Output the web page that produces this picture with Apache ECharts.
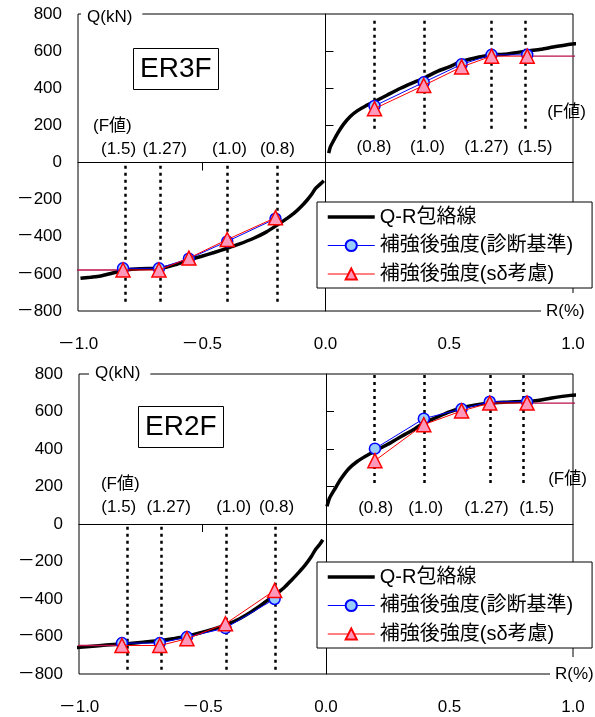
<!DOCTYPE html>
<html><head><meta charset="utf-8">
<script src="https://cdn.jsdelivr.net/npm/echarts@6/dist/echarts.min.js"></script>
<style>html,body{margin:0;padding:0;background:#fff}#c{width:595px;height:717px}</style>
</head><body><div id="c"></div>
<script>
// ---------- data ----------
const xTicks = [-1.0, -0.5, 0.0, 0.5, 1.0];
const yTicks = [-800, -600, -400, -200, 0, 200, 400, 600, 800];
const seriesNames = ['Q-R包絡線', '補強後強度(診断基準)', '補強後強度(sδ考慮)'];
const panelTitles = ['ER3F', 'ER2F'];
const fHeader = '(F値)';
const extR = [-1.03, 1.03];

// ER3F
const er3fEnvNeg = [[-0.99,-624],[-0.95,-618],[-0.909,-611],[-0.86,-595],[-0.808,-579],[-0.75,-572],[-0.667,-570],[-0.6,-548],[-0.552,-525],[-0.5,-505],[-0.45,-485],[-0.397,-462],[-0.35,-440],[-0.29,-408],[-0.24,-375],[-0.195,-337],[-0.16,-305],[-0.128,-274],[-0.1,-240],[-0.074,-202],[-0.055,-170],[-0.04,-139],[-0.02,-115],[-0.007,-98]];
const er3fEnvPos = [[0.013,50],[0.02,85],[0.034,121],[0.05,160],[0.074,208],[0.1,248],[0.128,278],[0.16,303],[0.195,326],[0.25,364],[0.303,400],[0.35,428],[0.397,454],[0.45,490],[0.5,515],[0.545,543],[0.6,562],[0.667,579],[0.72,583],[0.77,592],[0.815,601],[0.87,610],[0.92,622],[0.976,634],[1.03,643]];
const er3fR = [-0.818,-0.673,-0.552,-0.397,-0.202,0.198,0.397,0.55,0.671,0.815];
const er3fBlueQ = [-570,-570,-518,-425,-303,305,432,529,580,580];
const er3fRedQ = [-579,-579,-515,-415,-297,290,415,515,573,573];
const er3fFLineR = [-0.808,-0.667,-0.396,-0.194,0.198,0.397,0.671,0.808];
const er3fFLabels = ['(1.5)','(1.27)','(1.0)','(0.8)','(0.8)','(1.0)','(1.27)','(1.5)', fHeader, fHeader];
const er3fFLabelR = [-0.836,-0.65,-0.388,-0.194,0.196,0.412,0.65,0.846,-0.861,0.974];
const er3fFLabelQ = [70,70,70,70,81,81,81,81,197,269];

// ER2F
const er2fEnvNeg = [[-1.03,-661],[-0.97,-655],[-0.92,-649],[-0.86,-643],[-0.806,-638],[-0.74,-630],[-0.668,-621],[-0.62,-612],[-0.563,-599],[-0.5,-577],[-0.45,-558],[-0.403,-537],[-0.35,-505],[-0.3,-466],[-0.25,-420],[-0.205,-377],[-0.17,-340],[-0.138,-297],[-0.11,-258],[-0.083,-217],[-0.06,-175],[-0.043,-137],[-0.025,-108],[-0.013,-84]];
const er2fEnvPos = [[0.004,94],[0.015,140],[0.038,192],[0.06,240],[0.092,295],[0.125,332],[0.16,361],[0.197,387],[0.25,425],[0.294,459],[0.35,500],[0.396,539],[0.45,570],[0.5,598],[0.548,619],[0.6,634],[0.663,645],[0.73,650],[0.8,654],[0.84,656],[0.914,672],[0.99,686],[1.027,690]];
const er2fR = [-0.826,-0.673,-0.563,-0.407,-0.208,0.198,0.396,0.549,0.663,0.814];
const er2fBlueQ = [-635,-635,-603,-555,-400,402,562,613,652,652];
const er2fRedQ = [-648,-648,-612,-532,-354,338,530,603,645,645];
const er2fFLineR = [-0.806,-0.668,-0.403,-0.205,0.197,0.396,0.663,0.8];
const er2fFLabels = ['(1.5)','(1.27)','(1.0)','(0.8)','(0.8)','(1.0)','(1.27)','(1.5)', fHeader, fHeader];
const er2fFLabelR = [-0.839,-0.637,-0.374,-0.2,0.201,0.404,0.65,0.853,-0.833,0.978];
const er2fFLabelQ = [88,88,88,88,84,84,84,84,210,236];

// dotted reference line extents (Q range) per panel: [posTop, posBottom, negTop, negBottom]
const fLineExtent = [[764,175,-17,-770],[795,210,-15,-790]];

// ---------- layout / style ----------
const FONT = "'Liberation Sans','Noto Sans CJK JP',sans-serif";
const grids = [
  {left:78, top:14, width:495, height:297},
  {left:79, top:374, width:494, height:300}
];
const panels = [
  {env:[er3fEnvNeg, er3fEnvPos], R:er3fR, blue:er3fBlueQ, red:er3fRedQ, fl:er3fFLineR, lab:er3fFLabels, labR:er3fFLabelR, labQ:er3fFLabelQ},
  {env:[er2fEnvNeg, er2fEnvPos], R:er2fR, blue:er2fBlueQ, red:er2fRedQ, fl:er2fFLineR, lab:er2fFLabels, labR:er2fFLabelR, labQ:er2fFLabelQ}
];

const xMin = xTicks[0], xMax = xTicks[xTicks.length-1], xInt = xTicks[1]-xTicks[0];
const yMin = yTicks[0], yMax = yTicks[yTicks.length-1], yInt = yTicks[1]-yTicks[0];
const fmtX = v => (v < 0 ? '－' : '') + Math.abs(v).toFixed(1);
const fmtY = v => (v < 0 ? '－' : '') + Math.abs(v);

const xAxes = [], yAxes = [];
grids.forEach((g, i) => {
  xAxes.push({type:'value', gridIndex:i, min:xMin, max:xMax, interval:xInt,
    axisLine:{show:false, onZero:false}, axisTick:{show:false}, splitLine:{show:false},
    axisLabel:{formatter:fmtX, color:'#000', fontSize:17, fontFamily:FONT, margin:25}});
  xAxes.push({type:'value', gridIndex:i, min:xMin, max:xMax, interval:xInt,
    axisLine:{show:true, onZero:true, lineStyle:{color:'#000', width:1}},
    axisTick:{show:true, inside:true, length:8, customValues:[-0.5], lineStyle:{color:'#000'}},
    axisLabel:{show:false}, splitLine:{show:false}});
  yAxes.push({type:'value', gridIndex:i, min:yMin, max:yMax, interval:yInt,
    axisLine:{show:false, onZero:false}, axisTick:{show:false}, splitLine:{show:false},
    axisLabel:{formatter:fmtY, color:'#000', fontSize:17, fontFamily:FONT, margin:16}});
  yAxes.push({type:'value', gridIndex:i, min:yMin, max:yMax, interval:yInt, position:'left',
    axisLine:{show:true, onZero:true, lineStyle:{color:'#000', width:1}},
    axisTick:{show:true, inside:true, length:8, customValues:[200,400,600], lineStyle:{color:'#000'}},
    axisLabel:{show:false}, splitLine:{show:false}});
});

const series = [];
panels.forEach((p, i) => {
  const xi = 2*i, yi = 2*i;
  const n = p.R.length, half = n/2;
  p.env.forEach(seg => series.push({
    type:'line', name:seriesNames[0], xAxisIndex:xi, yAxisIndex:yi, data:seg, smooth:0.25,
    symbol:'none', clip:false, lineStyle:{color:'#000', width:3.5}, itemStyle:{color:'#000'}, z:3, animation:false}));
  // horizontal continuation beyond last evaluated points
  series.push({type:'line', name:'ext', xAxisIndex:xi, yAxisIndex:yi, clip:false, symbol:'none',
    data:[[extR[0], p.red[0]],[p.R[0], p.red[0]]], lineStyle:{color:'#B8104A', width:1.3}, z:4, animation:false});
  series.push({type:'line', name:'ext', xAxisIndex:xi, yAxisIndex:yi, clip:false, symbol:'none',
    data:[[p.R[n-1], p.red[n-1]],[extR[1], p.red[n-1]]], lineStyle:{color:'#B8104A', width:1.3}, z:4, animation:false});
  [[0,half],[half,n]].forEach(([a,b]) => {
    series.push({type:'line', name:seriesNames[1], xAxisIndex:xi, yAxisIndex:yi,
      data:p.R.slice(a,b).map((r,k)=>[r, p.blue[a+k]]),
      symbol:'circle', symbolSize:11, showSymbol:true,
      lineStyle:{color:'#0000FF', width:1},
      itemStyle:{color:'#99CCFF', borderColor:'#0000FF', borderWidth:1.5}, z:5, animation:false});
  });
  [[0,half],[half,n]].forEach(([a,b]) => {
    series.push({type:'line', name:seriesNames[2], xAxisIndex:xi, yAxisIndex:yi,
      data:p.R.slice(a,b).map((r,k)=>[r, p.red[a+k]]),
      symbol:'triangle', symbolSize:14, showSymbol:true,
      lineStyle:{color:'#FF0000', width:1},
      itemStyle:{color:'#FF99BB', borderColor:'#FF0000', borderWidth:1.5}, z:6, animation:false});
  });
  const ext = fLineExtent[i];
  series.push({type:'scatter', name:'flabels', xAxisIndex:xi, yAxisIndex:yi,
    data:p.lab.map((t,k)=>[p.labR[k], p.labQ[k], t]),
    symbol:'circle', symbolSize:2, itemStyle:{color:'rgba(0,0,0,0)'}, silent:true, animation:false, z:7,
    label:{show:true, position:'inside', formatter:o=>o.value[2], color:'#000', fontSize:17, fontFamily:FONT,
      textBorderWidth:0, textBorderColor:'transparent', opacity:1},
    markLine:{silent:true, symbol:['none','none'], animation:false, label:{show:false},
      lineStyle:{color:'#000', width:2.5, type:[3,4]},
      data:p.fl.map(r => r > 0 ? [{coord:[r, ext[0]]},{coord:[r, ext[1]]}] : [{coord:[r, ext[2]]},{coord:[r, ext[3]]}])}
  });
});

const titleText = (text, left, top, padding, fs, extra) => Object.assign({
  text, left, top, padding, itemGap:0,
  textStyle:{fontSize:fs, fontWeight:'normal', color:'#000', fontFamily:FONT}
}, extra || {});

const legendData = seriesNames.map((nm, k) => k === 0
  ? {name:nm, itemStyle:{color:'rgba(0,0,0,0)', borderColor:'rgba(0,0,0,0)', borderWidth:0}, lineStyle:{width:3.5, color:'#000'}}
  : {name:nm, lineStyle:{width:1}});

const option = {
  backgroundColor:'#fff',
  animation:false,
  grid: grids.map(g => Object.assign({show:true, borderColor:'#000', borderWidth:1, backgroundColor:'transparent', containLabel:false, outerBoundsMode:'none'}, g)),
  xAxis: xAxes,
  yAxis: yAxes,
  title: [
    titleText(panelTitles[0], 133, 48, [6,7,6,7], 28, {borderColor:'#000', borderWidth:1, textStyle:{fontSize:28, fontWeight:'normal', color:'#000', fontFamily:FONT, lineHeight:30}}),
    titleText(panelTitles[1], 138, 406, [6,7,6,7], 28, {borderColor:'#000', borderWidth:1, textStyle:{fontSize:28, fontWeight:'normal', color:'#000', fontFamily:FONT, lineHeight:30}}),
    titleText('Q(kN)', 81, 8, [1,10,1,6], 17, {backgroundColor:'#fff'}),
    titleText('Q(kN)', 89, 364, [1,10,1,6], 17, {backgroundColor:'#fff'}),
    titleText('R(%)', 541, 293, [10,5,2,5], 17, {backgroundColor:'#fff'}),
    titleText('R(%)', 550, 657, [9,5,2,5], 17, {backgroundColor:'#fff'})
  ],
  legend: [202, 562].map(top => ({
    data: legendData, orient:'vertical', left:317, top, padding:[5,19,4,9],
    itemWidth:47, itemHeight:14, itemGap:8.5,
    backgroundColor:'#fff', borderColor:'#000', borderWidth:1, borderRadius:0,
    selectedMode:false,
    textStyle:{fontSize:20, color:'#000', fontFamily:FONT, lineHeight:20}
  })),
  series
};

const chart = echarts.init(document.getElementById('c'), null, {renderer:'canvas'});
chart.setOption(option);
</script>
</body></html>
